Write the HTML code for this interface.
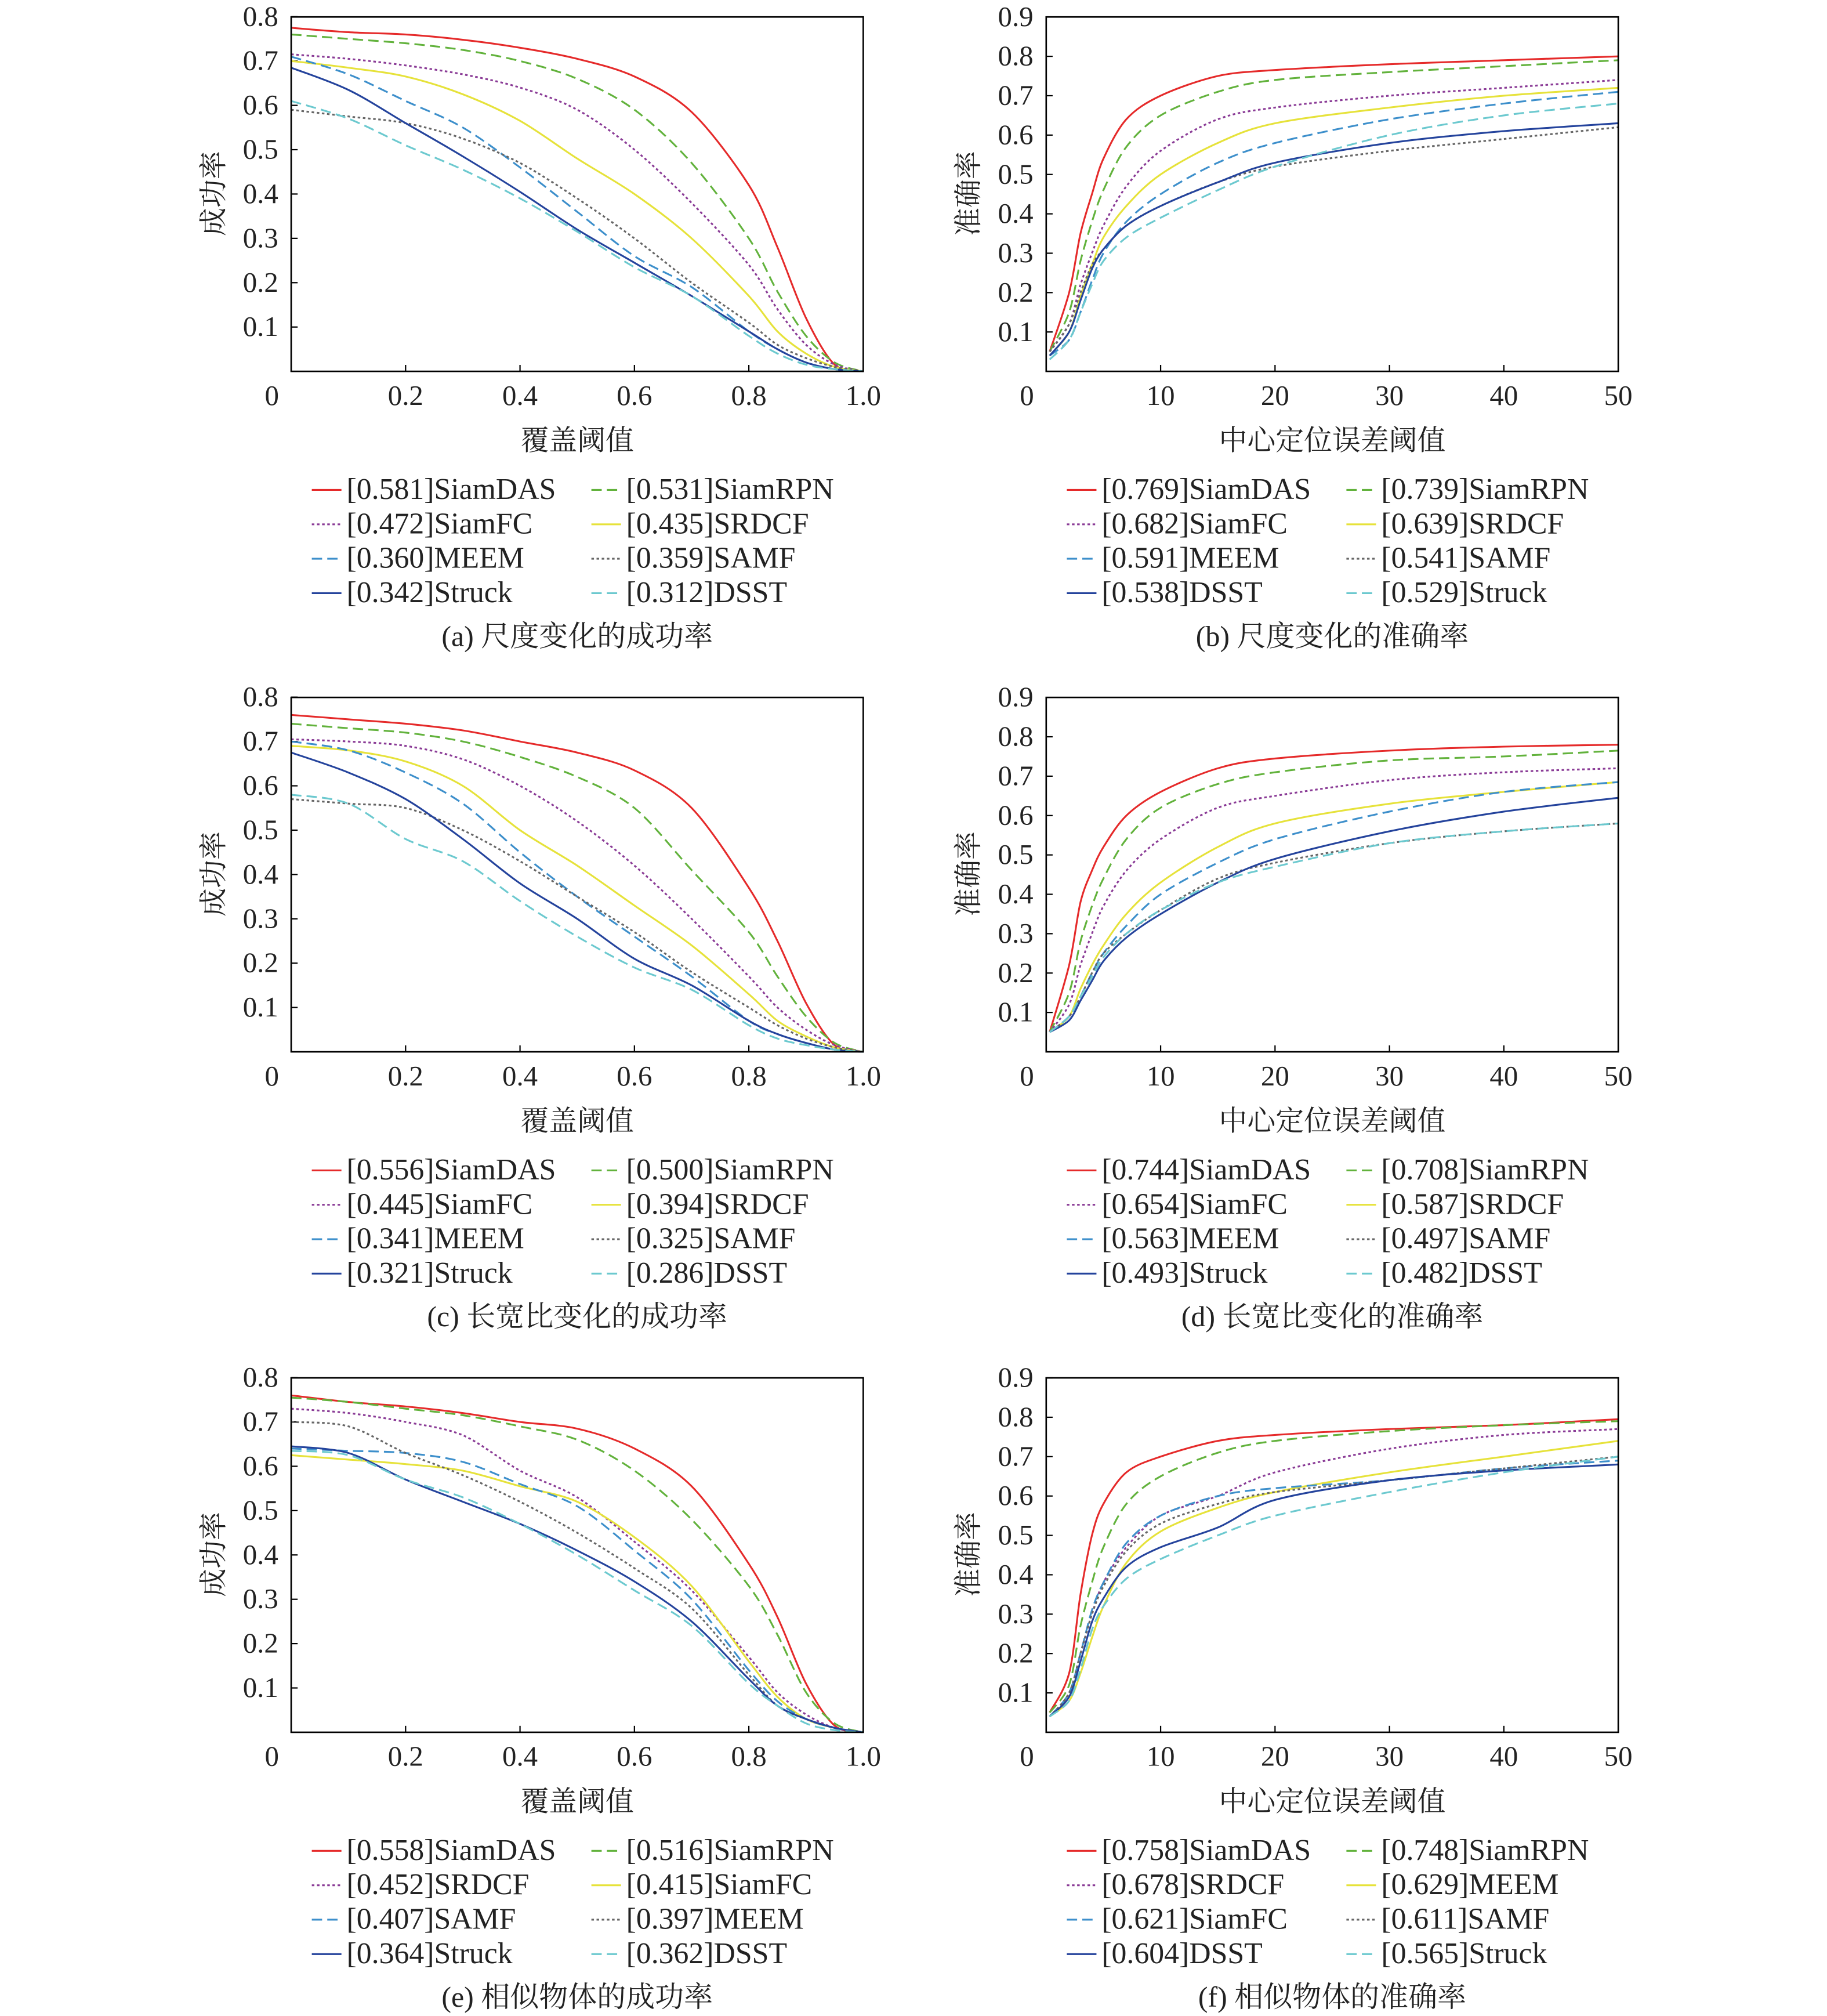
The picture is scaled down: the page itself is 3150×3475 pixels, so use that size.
<!DOCTYPE html>
<html><head><meta charset="utf-8"><style>
html,body{margin:0;padding:0;background:#fff}
svg{display:block}
text{font-family:"Liberation Serif","Noto Serif CJK SC",serif;fill:#222}
</style></head><body>
<svg id="chart" width="3150" height="3475" viewBox="0 0 1418 1564" xmlns="http://www.w3.org/2000/svg"></svg>
<script>
const succX=[0,0.1,0.2,0.3,0.4,0.5,0.6,0.7,0.8,0.85,0.9,0.95,1.0];
const precX=[0.3,2,3,4,5,7,10,15,20,30,40,50];
const namesA=["[0.581]SiamDAS","[0.531]SiamRPN","[0.472]SiamFC","[0.435]SRDCF","[0.360]MEEM","[0.359]SAMF","[0.342]Struck","[0.312]DSST"];
const dataA=[[.775,.765,.76,.748,.73,.705,.665,.585,.42,.28,.12,.015,0],[.76,.75,.74,.725,.70,.66,.59,.47,.30,.18,.08,.02,0],[.715,.705,.69,.67,.64,.59,.50,.38,.24,.14,.06,.015,0],[.70,.685,.665,.625,.565,.48,.40,.30,.17,.09,.04,.01,0],[.71,.67,.61,.55,.46,.36,.26,.19,.09,.05,.02,.005,0],[.59,.575,.56,.525,.47,.39,.30,.20,.11,.06,.03,.01,0],[.685,.635,.56,.485,.405,.32,.245,.17,.09,.05,.02,.005,0],[.61,.57,.51,.455,.39,.315,.235,.17,.08,.04,.015,.005,0]];
const namesB=["[0.769]SiamDAS","[0.739]SiamRPN","[0.682]SiamFC","[0.639]SRDCF","[0.591]MEEM","[0.541]SAMF","[0.538]DSST","[0.529]Struck"];
const dataB=[[.05,.2,.35,.45,.54,.64,.70,.75,.765,.78,.79,.80],[.05,.15,.28,.38,.46,.57,.65,.71,.74,.76,.775,.79],[.05,.12,.22,.30,.37,.47,.56,.64,.67,.70,.72,.74],[.04,.10,.19,.27,.34,.42,.50,.58,.63,.67,.70,.72],[.04,.08,.15,.23,.30,.38,.45,.53,.58,.64,.68,.71],[.05,.12,.20,.27,.31,.37,.42,.48,.52,.56,.59,.62],[.04,.10,.18,.26,.31,.37,.42,.48,.53,.58,.61,.63],[.03,.08,.15,.22,.28,.34,.39,.46,.52,.60,.65,.68]];
const namesC=["[0.556]SiamDAS","[0.500]SiamRPN","[0.445]SiamFC","[0.394]SRDCF","[0.341]MEEM","[0.325]SAMF","[0.321]Struck","[0.286]DSST"];
const dataC=[[.76,.75,.74,.725,.70,.675,.635,.55,.37,.25,.11,.015,0],[.74,.73,.72,.70,.665,.62,.55,.41,.27,.17,.08,.02,0],[.705,.70,.69,.66,.60,.52,.42,.30,.17,.10,.05,.015,0],[.69,.68,.655,.60,.50,.42,.33,.24,.13,.07,.035,.01,0],[.70,.68,.63,.56,.45,.35,.26,.17,.07,.04,.02,.005,0],[.57,.56,.55,.50,.43,.35,.27,.18,.10,.06,.03,.01,0],[.675,.63,.57,.48,.38,.30,.21,.15,.07,.04,.02,.005,0],[.58,.56,.48,.43,.34,.26,.19,.14,.06,.03,.015,.005,0]];
const namesD=["[0.744]SiamDAS","[0.708]SiamRPN","[0.654]SiamFC","[0.587]SRDCF","[0.563]MEEM","[0.497]SAMF","[0.493]Struck","[0.482]DSST"];
const dataD=[[.05,.22,.38,.46,.52,.60,.66,.72,.745,.765,.775,.78],[.05,.15,.28,.37,.44,.54,.62,.68,.71,.74,.75,.765],[.05,.12,.22,.30,.37,.46,.54,.62,.65,.69,.71,.72],[.05,.09,.16,.22,.27,.35,.43,.52,.58,.63,.66,.685],[.05,.09,.14,.20,.25,.32,.40,.48,.54,.61,.66,.685],[.05,.09,.14,.20,.25,.30,.36,.44,.48,.53,.56,.58],[.05,.08,.13,.18,.23,.29,.35,.43,.49,.56,.61,.645],[.05,.09,.14,.19,.24,.30,.36,.43,.47,.53,.56,.58]];
const namesE=["[0.558]SiamDAS","[0.516]SiamRPN","[0.452]SRDCF","[0.415]SiamFC","[0.407]SAMF","[0.397]MEEM","[0.364]Struck","[0.362]DSST"];
const dataE=[[.76,.745,.735,.72,.70,.685,.64,.555,.38,.26,.11,.015,0],[.755,.745,.73,.715,.69,.66,.59,.48,.33,.22,.09,.02,0],[.73,.72,.70,.67,.59,.53,.43,.32,.17,.09,.04,.01,0],[.625,.615,.605,.59,.555,.52,.44,.33,.16,.08,.03,.01,0],[.64,.635,.63,.61,.56,.51,.41,.30,.14,.07,.03,.01,0],[.70,.69,.63,.58,.52,.45,.37,.28,.13,.06,.03,.01,0],[.645,.63,.57,.52,.47,.41,.34,.25,.12,.06,.03,.01,0],[.635,.625,.57,.53,.47,.40,.32,.24,.11,.06,.02,.005,0]];
const namesF=["[0.758]SiamDAS","[0.748]SiamRPN","[0.678]SRDCF","[0.629]MEEM","[0.621]SiamFC","[0.611]SAMF","[0.604]DSST","[0.565]Struck"];
const dataF=[[.05,.15,.35,.50,.58,.66,.70,.74,.755,.77,.78,.795],[.05,.12,.27,.38,.47,.58,.65,.71,.74,.765,.78,.79],[.04,.10,.20,.30,.38,.47,.55,.60,.66,.72,.755,.77],[.04,.08,.15,.24,.32,.43,.51,.57,.61,.66,.70,.74],[.04,.10,.20,.31,.38,.48,.55,.60,.62,.64,.67,.69],[.04,.10,.20,.30,.37,.46,.53,.58,.61,.64,.67,.70],[.04,.09,.18,.28,.34,.42,.47,.52,.59,.64,.665,.68],[.04,.08,.16,.26,.32,.39,.44,.50,.55,.61,.66,.70]];
const succTicks=["0.2","0.4","0.6","0.8","1.0"];
const precTicks=["10","20","30","40","50"];

const styles=[["#e52a2a",""],["#62b23c","8,4"],["#8a3b96","2,2"],["#e6e23a",""],["#3d8fcb","8,4"],["#666","2,2"],["#24439c",""],["#6cc9cf","8,4"]];
const svg=document.getElementById('chart');
const NS="http://www.w3.org/2000/svg";
function mk(tag,attrs,parent){const e=document.createElementNS(NS,tag);for(const k in attrs)e.setAttribute(k,attrs[k]);(parent||svg).appendChild(e);return e;}
function txt(s,x,y,anchor,parent,extra){const t=mk('text',Object.assign({x:x,y:y,'text-anchor':anchor,'font-size':22},extra||{}),parent);t.textContent=s;return t;}
function smooth(p){
  let d='M'+p[0][0].toFixed(1)+','+p[0][1].toFixed(1);
  for(let i=0;i<p.length-1;i++){
    const p0=p[i-1]||p[i],p1=p[i],p2=p[i+1],p3=p[i+2]||p2;
    const t=0.16;
    const c1=[p1[0]+(p2[0]-p0[0])*t,p1[1]+(p2[1]-p0[1])*t];
    const c2=[p2[0]-(p3[0]-p1[0])*t,p2[1]-(p3[1]-p1[1])*t];
    d+=' C'+c1[0].toFixed(1)+','+c1[1].toFixed(1)+' '+c2[0].toFixed(1)+','+c2[1].toFixed(1)+' '+p2[0].toFixed(1)+','+p2[1].toFixed(1);
  }
  return d;
}

function panel(id,ox,oy,kind,names,data,caption){
  const g=mk('g',{});
  
  
  const L=ox,R=ox+444,T=oy,B=oy+275;
  const isS=kind==='s';
  const xmin=0, xmax=isS?1:50;
  const sx=v=>L+(v-xmin)/(xmax-xmin)*(R-L);
  const yStep=isS?34.4:(275/9);
  const sy=v=>B-v*10*yStep;
  const nT=isS?8:9;
  for(let i=1;i<=nT;i++){
    const y=B-i*yStep;
    mk('line',{x1:L,y1:y,x2:L+5,y2:y,stroke:'#000','stroke-width':1},g);
    const t=txt((i/10).toFixed(1),L-10,y+7,'end',g);
    
    
  }
  const t0=txt('0',L-15,B+26,'middle',g);
  
  
  const ticks=isS?succTicks:precTicks;
  ticks.forEach(s=>{
    const x=sx(parseFloat(s));
    mk('line',{x1:x,y1:B,x2:x,y2:B-5,stroke:'#000','stroke-width':1},g);
    const t=txt(s,x,B+26,'middle',g);
    
    
  });
  const xs=isS?succX:precX;
  data.forEach((arr,i)=>{
    const pts=arr.map((v,j)=>[sx(xs[j]),sy(v)]);
    const p=mk('path',{d:smooth(pts),fill:'none',stroke:styles[i][0],'stroke-width':1.4,'stroke-dasharray':styles[i][1]||'none','stroke-linejoin':'round'},g);
    
    
  });
  const box=mk('rect',{x:L,y:T,width:R-L,height:B-T,fill:'none',stroke:'#000','stroke-width':1.2},g);
  
  
  const yl=txt(isS?'成功率':'准确率',0,0,'middle',g,{transform:'translate('+(L-53)+','+(oy+137)+') rotate(-90)'});
  
  
  const xl=txt(isS?'覆盖阈值':'中心定位误差阈值',L+222,B+61,'middle',g);
  
  
  names.forEach((n,i)=>{
    const col=i%2,row=Math.floor(i/2);
    const lx=L+16+col*217, ly=oy+367+row*26.7;
    const lg=mk('g',{},g);
    
    
    mk('line',{x1:lx,y1:ly,x2:lx+23,y2:ly,stroke:styles[i][0],'stroke-width':1.4,'stroke-dasharray':styles[i][1]||'none'},lg);
    txt(n,lx+27,ly+7,'start',lg,{'font-size':23.3});
  });
  const c=txt(caption,L+222,oy+488,'middle',g,{'font-size':22.5});
  
  
}
panel('a',226,13,'s',namesA,dataA,'(a) 尺度变化的成功率');
panel('b',812,13,'p',namesB,dataB,'(b) 尺度变化的准确率');
panel('c',226,541,'s',namesC,dataC,'(c) 长宽比变化的成功率');
panel('d',812,541,'p',namesD,dataD,'(d) 长宽比变化的准确率');
panel('e',226,1069,'s',namesE,dataE,'(e) 相似物体的成功率');
panel('f',812,1069,'p',namesF,dataF,'(f) 相似物体的准确率');
</script>
</body></html>
